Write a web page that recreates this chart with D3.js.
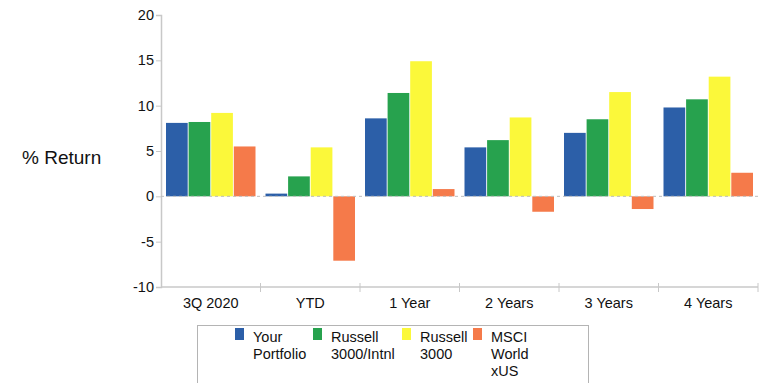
<!DOCTYPE html>
<html>
<head>
<meta charset="utf-8">
<script src="https://cdn.jsdelivr.net/npm/d3@7/dist/d3.min.js"></script>
<style>
  html, body { margin: 0; padding: 0; background: #fff; }
  svg { display: block; font-family: "Liberation Sans", Arial, sans-serif; }
</style>
</head>
<body>
<svg id="chart" width="760" height="383"></svg>
<script>
// Periods along the x axis
const categories = ["3Q 2020", "YTD", "1 Year", "2 Years", "3 Years", "4 Years"];
// Series names (legend lines)
const seriesNames = [["Your", "Portfolio"], ["Russell", "3000/Intnl"], ["Russell", "3000"], ["MSCI", "World", "xUS"]];
const seriesColors = ["#2c5fa8", "#27a24e", "#fbf83a", "#f57a4a"];
// Returns (%) per series, one value per period
const yourPortfolio = [8.1, 0.3, 8.6, 5.4, 7.0, 9.8];
const russell3000Intl = [8.2, 2.2, 11.4, 6.2, 8.5, 10.7];
const russell3000 = [9.2, 5.4, 14.9, 8.7, 11.5, 13.2];
const msciWorldXUS = [5.5, -7.1, 0.8, -1.7, -1.4, 2.6];
const yTicks = [-10, -5, 0, 5, 10, 15, 20];

const series = [yourPortfolio, russell3000Intl, russell3000, msciWorldXUS];
const svg = d3.select("#chart");

const plot = { left: 161, right: 758, top: 15, bottom: 287 };
const y = d3.scaleLinear().domain([-10, 20]).range([plot.bottom, plot.top]);
const x = d3.scaleBand().domain(categories).range([plot.left, plot.right]).paddingInner(0).paddingOuter(0);
const xs = d3.scaleBand().domain(d3.range(series.length)).range([5, x.bandwidth() - 5]).paddingInner(0.04);

// Y axis (plain hyphen for negatives)
const yAxis = d3.axisLeft(y).tickValues(yTicks).tickSize(5).tickPadding(2).tickFormat(d => String(d));
const gy = svg.append("g").attr("transform", `translate(${plot.left},0)`).call(yAxis);
gy.select(".domain").attr("stroke", "#c8c8c8").attr("stroke-width", 1.5);
gy.selectAll(".tick line").attr("stroke", "#c8c8c8");
gy.selectAll(".tick text").attr("fill", "#111").style("font-size", "14.5px")
  .style("font-family", "'Liberation Sans', Arial, sans-serif");

// X axis along the bottom with ticks at period boundaries
const gx = svg.append("g").attr("transform", `translate(0,${plot.bottom})`);
gx.append("line").attr("x1", plot.left).attr("x2", plot.right).attr("stroke", "#c8c8c8").attr("stroke-width", 1.5);
const bounds = categories.map(c => x(c)).concat([plot.right]);
gx.selectAll("line.tk").data(bounds.slice(1)).join("line").attr("class", "tk")
  .attr("x1", d => d).attr("x2", d => d).attr("y1", -4).attr("y2", 5).attr("stroke", "#c8c8c8");
gx.selectAll("text").data(categories).join("text")
  .attr("x", d => x(d) + x.bandwidth() / 2).attr("y", 21)
  .attr("text-anchor", "middle").attr("fill", "#111").style("font-size", "14.5px").text(d => d);

// Bars
const groups = svg.append("g").selectAll("g").data(categories).join("g")
  .attr("transform", d => `translate(${x(d)},0)`);
groups.selectAll("rect").data((c, i) => series.map((s, k) => ({ k, v: s[i] }))).join("rect")
  .attr("x", d => xs(d.k)).attr("width", xs.bandwidth())
  .attr("y", d => y(Math.max(0, d.v))).attr("height", d => Math.abs(y(d.v) - y(0)))
  .attr("fill", d => seriesColors[d.k]);

// Zero line
svg.append("line").attr("x1", plot.left).attr("x2", plot.right).attr("y1", y(0)).attr("y2", y(0))
  .attr("stroke", "#bdbdbd").attr("stroke-dasharray", "3,3");

// Y axis title
svg.append("text").attr("x", 22).attr("y", 164).attr("fill", "#111")
  .style("font-size", "19px").text("% Return");

// Legend
const lg = svg.append("g");
lg.append("rect").attr("x", 197.5).attr("y", 325.5).attr("width", 391).attr("height", 70)
  .attr("fill", "none").attr("stroke", "#b4b4b4");
const legendX = [235, 313, 402, 473];
seriesNames.forEach((lines, k) => {
  lg.append("rect").attr("x", legendX[k]).attr("y", 328).attr("width", 9).attr("height", 12)
    .attr("fill", seriesColors[k]);
  const t = lg.append("text").attr("x", legendX[k] + 18).attr("y", 342).attr("fill", "#111")
    .style("font-size", "14.5px");
  lines.forEach((ln, j) => t.append("tspan").attr("x", legendX[k] + 18).attr("dy", j ? 17 : 0).text(ln));
});
</script>
</body>
</html>
